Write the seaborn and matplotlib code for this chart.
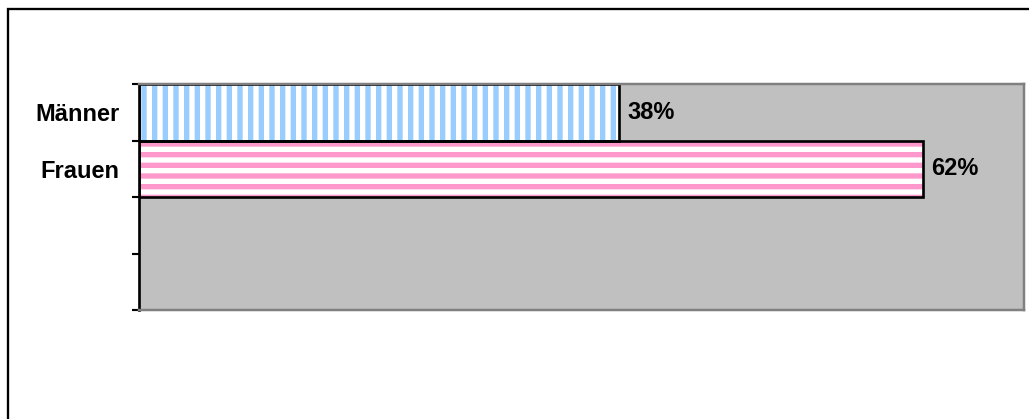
import matplotlib
matplotlib.use("Agg")
import matplotlib.pyplot as plt
from matplotlib.patches import Rectangle
import seaborn as sns
import pandas as pd

# Daten
kategorien = ["Männer", "Frauen"]
anteile = [0.38, 0.62]
streifen_farben = ["#99CCFF", "#FF99CC"]
streifen_muster = ["||", "--"]

DPI = 128
sns.set_theme(style="white")
plt.rcParams.update({
    "font.family": ["Liberation Sans", "DejaVu Sans"],
    "font.weight": "bold",
    "text.color": "black",
    "ytick.labelcolor": "black",
    "hatch.linewidth": 3.0,
})

df = pd.DataFrame({"Geschlecht": kategorien, "Anteil": anteile})

fig = plt.figure(figsize=(1029 / DPI, 419 / DPI), dpi=DPI)
ax = fig.add_axes([139 / 1029, 1 - 310 / 419, 885 / 1029, 226 / 419])
ax.set_facecolor("#C0C0C0")

# Schicht 1: gestreifte Füllung
sns.barplot(data=df, x="Anteil", y="Geschlecht", orient="h", width=1.0,
            color="white", ax=ax)
for patch, farbe, muster in zip(ax.patches, streifen_farben, streifen_muster):
    patch.set_facecolor("white")
    patch.set_edgecolor(farbe)
    patch.set_linewidth(0)
    patch.set_hatch(muster)
    if hasattr(patch, "set_hatch_linewidth"):
        patch.set_hatch_linewidth(3.0)

# Schicht 2: schwarzer Rahmen
sns.barplot(data=df, x="Anteil", y="Geschlecht", orient="h", width=1.0,
            fill=False, edgecolor="black", linewidth=1.5, ax=ax)

ax.bar_label(ax.containers[-1], labels=[f"{v:.0%}" for v in anteile],
             padding=4.5, fontsize=13.3, fontweight="bold", color="black")

ax.set_xlim(0, 0.7)
ax.set_ylim(3.5, -0.5)
ax.set_xlabel("")
ax.set_ylabel("")
ax.set_xticks([])

# Teilstriche zwischen den Kategorien, Beschriftung in der Mitte
ax.set_yticks([-0.5, 0.5, 1.5, 2.5, 3.5])
ax.set_yticklabels([])
ax.set_yticks([0, 1], minor=True)
ax.set_yticklabels(kategorien, minor=True, fontsize=13.3, fontweight="bold",
                   color="black")
ax.tick_params(axis="y", which="major", left=True, length=4, width=1.2,
               color="black")
ax.tick_params(axis="y", which="minor", left=True, length=0, pad=11)

ax.spines["left"].set_color("black")
ax.spines["left"].set_linewidth(1.5)
for s in ["top", "right", "bottom"]:
    ax.spines[s].set_color("#808080")
    ax.spines[s].set_linewidth(1.4)

# Rahmen um das Diagramm (rechts und unten abgeschnitten)
fig.patches.append(Rectangle((7.5 / 1029, -0.1), 1.2, 1.1 - 9 / 419,
                             transform=fig.transFigure, fill=False,
                             edgecolor="black", linewidth=1.3))

fig.savefig("out.png", dpi=DPI, facecolor="white")
